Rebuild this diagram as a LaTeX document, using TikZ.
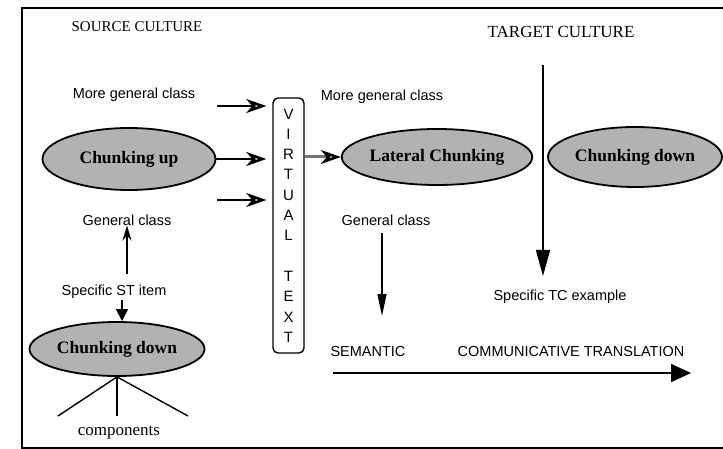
\documentclass[tikz,border=0pt]{standalone}
\usepackage{fontspec}
\setmainfont{Liberation Serif}
\setsansfont{Liberation Sans}
\usetikzlibrary{shapes.geometric,arrows.meta}

\begin{document}
\begin{tikzpicture}[x=1pt,y=-1pt,
  chunk/.style={ellipse,draw,line width=1.8pt,fill=black!30,inner sep=0pt,
    font=\fontsize{17.5}{20}\selectfont\bfseries},
  lbl/.style={font=\sffamily\fontsize{14.5}{17}\selectfont,inner sep=0pt},
  ttl/.style={font=\fontsize{15}{18}\selectfont,inner sep=0pt},
  conn/.style={line width=1.4pt},
  openhead/.style={conn,-{Stealth[open,length=20pt,width=14pt,inset=6pt,line width=2.6pt]}},
  smallopen/.style={conn,-{Stealth[open,length=15pt,width=9pt,inset=5pt,line width=2.2pt]}},
  vbox/.style={draw,rounded corners=5pt,line width=1.4pt,minimum width=31pt,
    minimum height=255pt,inner sep=0pt,align=center,
    font=\sffamily\fontsize{15}{20.3}\selectfont}]

\useasboundingbox (0,0) rectangle (723,449);

% outer frame, open on the right
\draw[line width=2pt] (723,8) -- (22,8) -- (22,448) -- (723,448);

% headings
\node[ttl] (src) at (137,27) {SOURCE CULTURE};
\node[ttl,font=\fontsize{17}{20}\selectfont] (tgt) at (561,32) {TARGET CULTURE};

% labels
\node[lbl] (mgl) at (134,95) {More general class};
\node[lbl] (mgr) at (382,97) {More general class};
\node[lbl] (gcl) at (127,220) {General class};
\node[lbl] (gcr) at (386,220) {General class};
\node[lbl] (sst) at (114,292) {Specific ST item};
\node[lbl] (stc) at (560,297) {Specific TC example};
\node[lbl] (sem) at (368,352) {SEMANTIC};
\node[lbl] (com) at (571,352) {COMMUNICATIVE TRANSLATION};
\node[font=\fontsize{17}{20}\selectfont,inner sep=0pt] (cmp) at (119,433) {components};

% ellipses
\node[chunk,minimum width=173pt,minimum height=62pt] (up) at (129,159) {Chunking up};
\node[chunk,minimum width=169pt,minimum height=56pt] (lat) at (437,157) {Lateral Chunking};
\node[chunk,minimum width=174pt,minimum height=60pt] (downr) at (635,157) {Chunking down};
\node[chunk,minimum width=175pt,minimum height=54pt] (downl) at (117,349) {Chunking down};

% virtual text column
\node[vbox] (vt) at (288.5,225.5) {V\\I\\R\\T\\U\\A\\L\\[20.3pt]T\\E\\X\\T};

% arrows into the virtual text
\coordinate (a1) at (217,106);
\coordinate (a3) at (217,200);
\draw[openhead,shorten >=6pt] (a1) -- (a1 -| vt.west);
\draw[openhead,shorten >=6pt] (up.east) -- (up.east -| vt.west);
\draw[openhead,shorten >=6pt] (a3) -- (a3 -| vt.west);

% virtual text to lateral chunking
\draw[line width=3pt,draw=black!55,
  -{Stealth[open,length=20pt,width=14pt,inset=6pt,line width=2.6pt,color=black]}]
  (vt.east |- lat.west) -- (lat.west);

% target-culture descent
\coordinate (vtop) at (543,65);
\coordinate (vbot) at (543,276);
\draw[conn,-{Triangle[length=26pt,width=14pt]}] (vtop) -- (vbot);

\coordinate (gtop) at (382,233);
\coordinate (gbot) at (382,316);
\draw[conn,-{Triangle[length=22pt,width=9pt]}] (gtop) -- (gbot);

% source-culture chain
\coordinate (upfrom) at (127,274);
\draw[smallopen] (upfrom) -- (gcl.south);
\coordinate (dfrom) at (122,300);
\draw[conn,-{Triangle[length=12pt,width=12pt]}] (dfrom) -- (dfrom |- downl.north);

% components fan
\coordinate (c1) at (58,416);
\coordinate (c2) at (117,416);
\coordinate (c3) at (188,416);
\draw[conn] (c1) -- (downl.south) -- (c3);
\draw[conn] (downl.south) -- (c2);

% semantic to communicative axis
\coordinate (ax0) at (333,373);
\coordinate (ax1) at (691,373);
\draw[line width=1.8pt,-{Triangle[length=20pt,width=18pt]}] (ax0) -- (ax1);

\end{tikzpicture}
\end{document}
